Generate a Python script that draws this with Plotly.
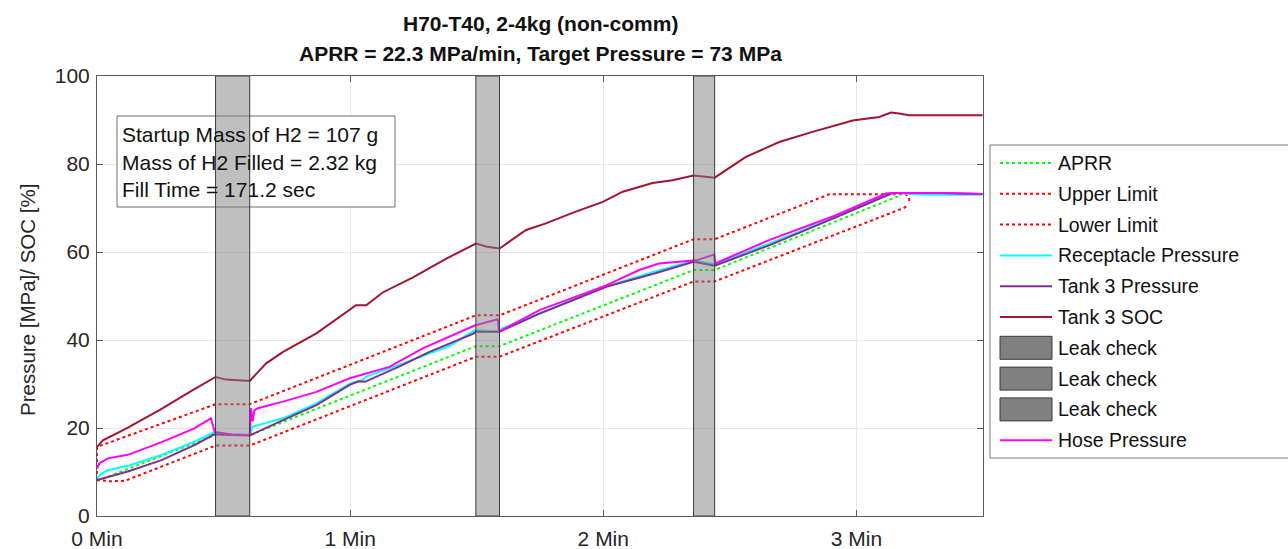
import plotly.graph_objects as go

# ---------------- data (time in seconds, values in MPa or %) ----------------
t_aprr = [0, 28.1, 36.2, 89.8, 95.4, 141.4, 146.4, 190.5]
v_aprr = [8.0, 18.4, 18.4, 38.6, 38.6, 55.9, 55.9, 72.9]

t_upper = [0, 0, 28.1, 36.2, 89.8, 95.4, 141.4, 146.4, 173.5, 191.7, 192.5, 192.5]
v_upper = [8.2, 15.7, 25.4, 25.4, 45.6, 45.6, 62.9, 62.9, 73.1, 73.1, 72.4, 71.0]

t_lower = [0, 3.0, 6.6, 28.1, 36.2, 89.8, 95.4, 141.4, 146.4, 191.2, 192.4]
v_lower = [8.2, 7.9, 8.0, 16.0, 16.0, 36.2, 36.2, 53.3, 53.3, 70.0, 70.8]

t_rec = [0, 1.0, 2.6, 7.3, 15.3, 23.1, 27.5, 28.1, 32.0, 36.2, 36.9, 38.0, 44.1, 52.0,
         59.9, 63.0, 63.8, 71.7, 83.5, 89.5, 95.4, 96.0, 104.9, 120.7, 131.7, 141.4,
         146.4, 159.3, 175.0, 188.5, 196.4, 209.9]
v_rec = [8.6, 9.6, 10.4, 11.4, 13.9, 16.9, 18.9, 18.8, 18.5, 18.4, 20.3, 20.6, 22.2, 25.6,
         30.1, 30.9, 31.7, 34.4, 38.6, 42.2, 41.9, 42.6, 46.1, 52.2, 55.4, 58.0,
         57.2, 61.9, 67.9, 73.4, 73.0, 73.0]

t_tank = [0, 7.3, 15.3, 23.1, 27.5, 28.1, 32.0, 36.2, 44.1, 52.0, 59.9, 62.0, 63.5, 71.7,
          78.8, 89.1, 89.8, 95.4, 104.9, 120.7, 131.7, 141.4, 146.4, 159.3, 175.0, 188.5,
          200.0, 209.9]
v_tank = [8.2, 10.1, 12.7, 16.1, 18.4, 18.6, 18.4, 18.3, 21.8, 25.2, 29.8, 30.6, 30.5, 34.0,
          37.3, 41.4, 41.9, 41.9, 46.0, 52.1, 55.0, 57.8, 56.9, 61.5, 67.8, 73.4,
          73.4, 73.2]

t_soc = [0, 1.4, 7.0, 14.9, 22.7, 28.1, 30.6, 36.2, 40.1, 44.1, 52.0, 59.9, 61.4, 63.8,
         67.7, 74.8, 82.8, 89.8, 92.5, 95.4, 101.7, 106.4, 112.7, 119.9, 124.6, 131.7,
         136.4, 141.4, 144.0, 146.4, 153.8, 161.7, 169.6, 179.1, 185.4, 188.2, 190.1,
         192.5, 209.9]
v_soc = [15.7, 17.2, 19.9, 24.1, 28.6, 31.6, 31.0, 30.7, 34.7, 37.3, 41.5, 46.8, 47.9, 47.9,
         50.8, 54.2, 58.5, 61.9, 61.2, 60.8, 65.0, 66.5, 68.9, 71.4, 73.7, 75.7,
         76.3, 77.4, 77.2, 76.9, 81.6, 85.0, 87.3, 89.9, 90.7, 91.7, 91.5,
         91.1, 91.1]

t_hose = [0, 0.6, 2.6, 7.3, 15.3, 23.1, 27.0, 27.9, 32.0, 36.2, 36.5, 36.9, 37.3, 38.1,
          44.1, 52.0, 59.9, 69.3, 77.2, 83.5, 89.5, 95.0, 95.3, 104.9, 120.7, 128.5,
          133.2, 142.0, 146.3, 146.5, 159.3, 175.0, 187.0, 188.5, 200.0, 209.9]
v_hose = [10.8, 12.0, 13.1, 13.9, 16.8, 19.9, 22.2, 19.1, 18.5, 18.4, 24.5, 21.5, 24.0, 24.5,
          26.0, 28.2, 31.3, 33.9, 38.1, 40.7, 43.3, 44.7, 41.9, 46.8, 52.4, 55.9,
          57.4, 58.1, 59.4, 57.4, 62.7, 68.3, 73.3, 73.4, 73.4, 73.2]

leak_start = [28.1, 89.8, 141.4]
leak_end = [36.2, 95.4, 146.4]

x_tick_vals = [0, 60, 120, 180]
x_tick_text = ["0 Min", "1 Min", "2 Min", "3 Min"]
y_tick_vals = [0, 20, 40, 60, 80, 100]

title_lines = ["H70-T40, 2-4kg (non-comm)", "APRR = 22.3 MPa/min, Target Pressure = 73 MPa"]
info_lines = ["Startup Mass of H2 = 107 g", "Mass of H2 Filled = 2.32 kg", "Fill Time = 171.2 sec"]
y_title = "Pressure [MPa]/ SOC [%]"

series_names = ["APRR", "Upper Limit", "Lower Limit", "Receptacle Pressure", "Tank 3 Pressure",
                "Tank 3 SOC", "Leak check", "Leak check", "Leak check", "Hose Pressure"]

# ---------------- styling ----------------
C_GREEN = "#00ff00"
C_RED = "#ff0000"
C_CYAN = "#00ffff"
C_PURPLE = "#7e2f8e"
C_SOC = "#a2142f"
C_MAG = "#ff00ff"
FONT = "Arial, Liberation Sans, sans-serif"

W, H = 1288, 549
L, R, T, B = 97, 305, 76, 33
PW, PH = W - L - R, H - T - B


def px(xp):
    return (xp - L) / PW


def py(yp):
    return (H - B - yp) / PH


fig = go.Figure()

line_specs = [
    (t_aprr, v_aprr, C_GREEN, "dot", 2),
    (t_upper, v_upper, C_RED, "dot", 2),
    (t_lower, v_lower, C_RED, "dot", 2),
    (t_rec, v_rec, C_CYAN, "solid", 2),
    (t_tank, v_tank, C_PURPLE, "solid", 2),
    (t_soc, v_soc, C_SOC, "solid", 2),
    (t_hose, v_hose, C_MAG, "solid", 2),
]
names_for_lines = [series_names[i] for i in (0, 1, 2, 3, 4, 5, 9)]
for (tx, vy, col, dash, w), nm in zip(line_specs, names_for_lines):
    fig.add_trace(go.Scatter(x=tx, y=vy, mode="lines", name=nm,
                             line=dict(color=col, dash=dash, width=w),
                             showlegend=False, hoverinfo="skip"))

shapes = []
annotations = []

# info text box (white, below the leak check bands)
shapes.append(dict(type="rect", xref="paper", yref="paper",
                   x0=px(117), x1=px(395), y0=py(207), y1=py(116),
                   fillcolor="white", line=dict(color="#6e6e6e", width=1), layer="above"))

# leak check bands
for s, e in zip(leak_start, leak_end):
    shapes.append(dict(type="rect", xref="x", yref="y", x0=s, x1=e, y0=0, y1=100,
                       fillcolor="rgba(128,128,128,0.5)",
                       line=dict(color="#3c3c3c", width=1), layer="above"))

for i, txt in enumerate(info_lines):
    annotations.append(dict(xref="paper", yref="paper", x=px(120), y=py(134 + 28 * i),
                            xanchor="left", yanchor="middle", text=txt, showarrow=False,
                            font=dict(family=FONT, size=21, color="#111111")))

# titles
for i, txt in enumerate(title_lines):
    annotations.append(dict(xref="paper", yref="paper", x=0.5, y=py(23 + 30 * i),
                            xanchor="center", yanchor="middle", text="<b>" + txt + "</b>",
                            showarrow=False, font=dict(family=FONT, size=21, color="#111111")))

# y axis title
annotations.append(dict(xref="paper", yref="paper", x=px(27), y=py(300), xanchor="center",
                        yanchor="middle", text=y_title, textangle=-90, showarrow=False,
                        font=dict(family=FONT, size=20.5, color="#262626")))

# manual legend
shapes.append(dict(type="rect", xref="paper", yref="paper", x0=px(990), x1=px(1300),
                   y0=py(458), y1=py(145), fillcolor="white",
                   line=dict(color="#7a7a7a", width=1), layer="above"))
leg_styles = [
    ("line", C_GREEN, "dot"), ("line", C_RED, "dot"), ("line", C_RED, "dot"),
    ("line", C_CYAN, "solid"), ("line", C_PURPLE, "solid"), ("line", C_SOC, "solid"),
    ("box", "#808080", None), ("box", "#808080", None), ("box", "#808080", None),
    ("line", C_MAG, "solid"),
]
for i, (nm, (kind, col, dash)) in enumerate(zip(series_names, leg_styles)):
    yc = 163 + 30.8 * i
    if kind == "line":
        shapes.append(dict(type="line", xref="paper", yref="paper", x0=px(1000), x1=px(1052),
                           y0=py(yc), y1=py(yc), line=dict(color=col, dash=dash, width=2),
                           layer="above"))
    else:
        shapes.append(dict(type="rect", xref="paper", yref="paper", x0=px(1000), x1=px(1052),
                           y0=py(yc + 11.5), y1=py(yc - 11.5), fillcolor=col,
                           line=dict(color="#3c3c3c", width=1), layer="above"))
    annotations.append(dict(xref="paper", yref="paper", x=px(1056), y=py(yc), xanchor="left",
                            yanchor="middle", text=nm, showarrow=False,
                            font=dict(family=FONT, size=19.5, color="#111111")))

axis_common = dict(showgrid=True, gridcolor="#e8e8e8", gridwidth=1, zeroline=False,
                   showline=True, linecolor="#5a5a5a", linewidth=1, mirror="ticks",
                   ticks="inside", ticklen=6, tickcolor="#5a5a5a", automargin=False,
                   tickfont=dict(family=FONT, size=21, color="#262626"))

fig.update_layout(
    width=W, height=H, autosize=False,
    margin=dict(l=L, r=R, t=T, b=B, pad=0),
    plot_bgcolor="white", paper_bgcolor="white",
    showlegend=False,
    shapes=shapes, annotations=annotations,
    xaxis=dict(range=[0, 210], tickvals=x_tick_vals, ticktext=x_tick_text,
               ticklabelstandoff=4, **axis_common),
    yaxis=dict(range=[0, 100], tickvals=y_tick_vals, ticklabelstandoff=2, **axis_common),
)

fig.write_html("out.html")
